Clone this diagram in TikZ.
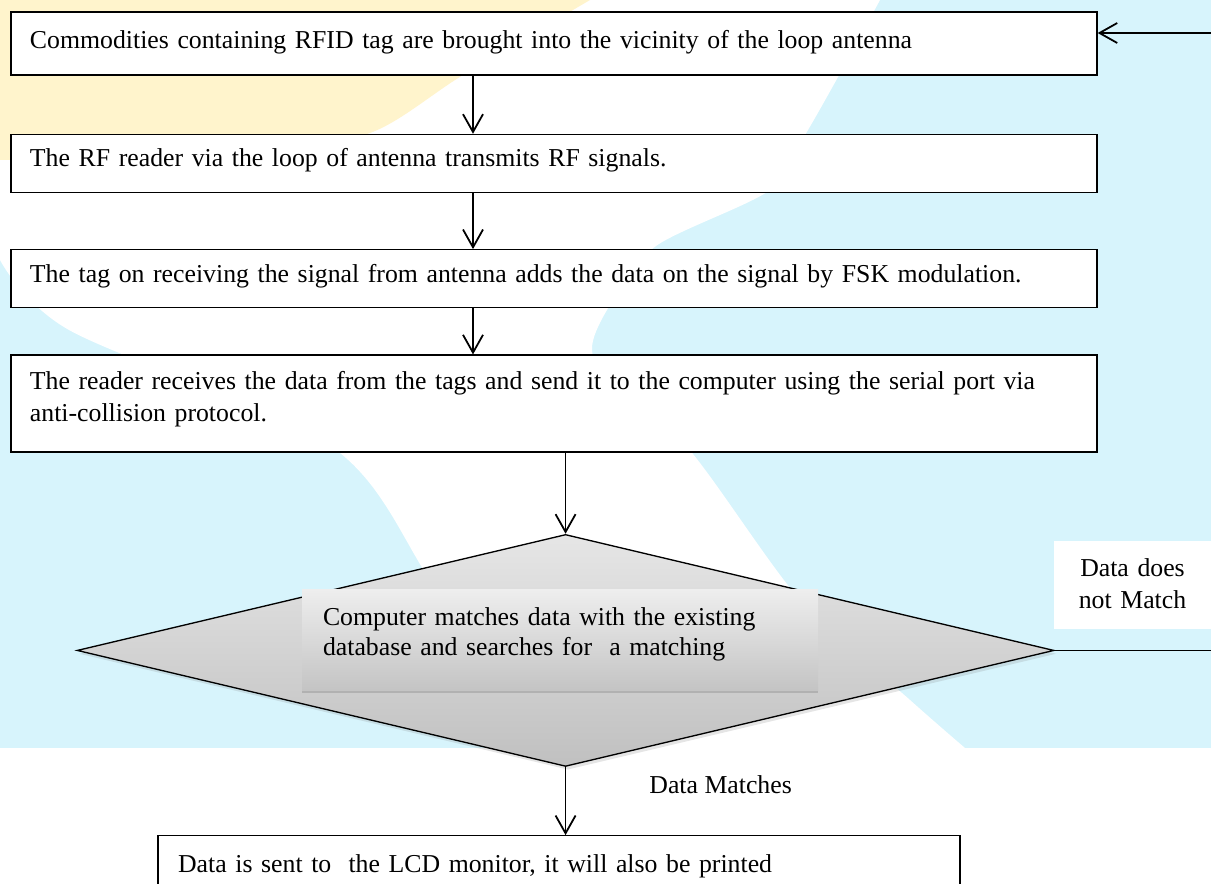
\documentclass[tikz,border=0pt]{standalone}
\usepackage{fontspec}
\setmainfont{Liberation Serif}
\usepackage{xcolor}
\usepackage{tikz}
\usetikzlibrary{arrows.meta, positioning, shapes.geometric, shadows}

\definecolor{washcyan}{RGB}{215,244,252}
\definecolor{washyellow}{RGB}{255,244,204}
\definecolor{greytop}{RGB}{230,230,230}
\definecolor{greybottom}{RGB}{192,192,192}
\definecolor{querytop}{RGB}{238,238,238}
\definecolor{querybottom}{RGB}{196,196,196}

\begin{document}
\begin{tikzpicture}[
    x=0.45pt, y=-0.45pt,
    >={Straight Barb[length=8pt, width=9pt]},
    font=\fontsize{11.6}{14.4}\selectfont,
    stepbox/.style={
        rectangle,
        draw=black,
        semithick,
        fill=white,
        text width=471.6pt,
        inner xsep=8.55pt,
        inner ysep=0pt,
        align=left
    },
    decision/.style={
        diamond,
        draw=black,
        semithick,
        minimum width=439.65pt,
        minimum height=104.4pt,
        inner sep=0pt,
        top color=greytop,
        bottom color=greybottom,
        drop shadow={opacity=0.2, shadow xshift=1pt, shadow yshift=-1.5pt}
    },
    querybox/.style={
        rectangle,
        top color=querytop,
        bottom color=querybottom,
        text width=213.3pt,
        inner xsep=9.45pt,
        inner ysep=0pt,
        text height=16.2pt,
        text depth=29.25pt,
        align=left,
        font=\fontsize{11.6}{13.5}\selectfont,
        drop shadow={opacity=0.35, shadow xshift=0pt, shadow yshift=-1.2pt}
    },
    outcome/.style={
        rectangle,
        fill=white,
        text width=70.65pt,
        inner sep=0pt,
        text height=15.75pt,
        text depth=23.85pt,
        align=center
    }
]

\useasboundingbox (0,0) rectangle (1211,884);
\clip (0,0) rectangle (1211,884);

% Watermark wash behind the chart
\fill[white] (0,0) rectangle (1211,884);
\fill[washcyan] (0,0) rectangle (1211,748);
\fill[white] plot[smooth] coordinates {(0,260) (69,330) (332,447) (432,583) (540,748)}
    -- plot[smooth] coordinates {(965,748) (910,700) (800,600) (687,447) (615,395) (592,350) (610,305) (656,246) (770,190) (805,135) (838,77) (880,0)}
    -- (0,0) -- cycle;
\fill[washyellow] plot[smooth] coordinates {(590,0) (463,75) (370,133) (250,152) (0,160)}
    -- (0,0) -- cycle;

% Main vertical flow
\node[stepbox, text height=16.2pt, text depth=12.15pt] (bring) at (554,43.6)
    {Commodities containing RFID tag are brought into the vicinity of the loop antenna};

\node[stepbox, text height=14.4pt, text depth=11.7pt, below=26.1pt of bring] (transmit)
    {The RF reader via the loop of antenna transmits RF signals.};

\node[stepbox, text height=14.85pt, text depth=11.25pt, below=25.2pt of transmit] (modulate)
    {The tag on receiving the signal from antenna adds the data on the signal by FSK modulation.};

\node[stepbox, text height=15.3pt, text depth=28.35pt, below=20.7pt of modulate] (forward)
    {The reader receives the data from the tags and send it to the computer using the serial port via\\anti-collision protocol.};

\node[decision, below=36.45pt of forward, xshift=5.2pt] (compare) {};

\node[querybox] (query) at (560,639.5)
    {Computer matches data with the existing\\database and searches for~ a matching};

\node[stepbox, text width=342.9pt, inner xsep=9pt, text height=16.65pt, text depth=11.7pt,
      below=30.6pt of compare, xshift=-2.9pt] (output)
    {Data is sent to~ the LCD monitor, it will also be printed};

% Branch labels
\node[outcome] (nomatch) at (1132.5,585) {Data does\\not Match};
\node[anchor=base] (match) at (720.6,793) {Data Matches};

% Arrows
\coordinate (spine) at (473,0);
\coordinate (rim) at (1211,0);
\coordinate (loopin) at (1211,33);

\draw[->, thick] (bring.south -| spine) -- (transmit.north -| spine);
\draw[->, thick] (transmit.south -| spine) -- (modulate.north -| spine);
\draw[->, thick] (modulate.south -| spine) -- (forward.north -| spine);
\draw[->, thick] (forward.south -| compare.north) -- (compare.north);
\draw[->, thick] (compare.south) -- (compare.south |- output.north);

% Loop back when nothing matches
\draw[thick] (compare.east) -- (compare.east -| rim);
\draw[->, thick] (loopin) -- (loopin -| bring.east);

\end{tikzpicture}
\end{document}
